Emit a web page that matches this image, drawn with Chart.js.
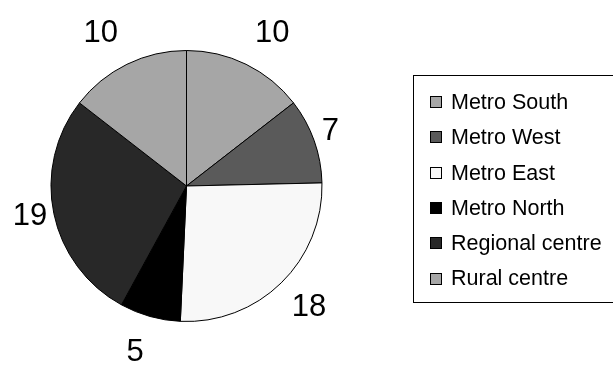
<!DOCTYPE html>
<html>
<head>
<meta charset="utf-8">
<script src="https://cdn.jsdelivr.net/npm/chart.js@4.4.1/dist/chart.umd.min.js"></script>
<style>
  html, body { margin: 0; padding: 0; background: #fff; }
  #wrap { position: relative; width: 613px; height: 367px; }
</style>
</head>
<body>
<div id="wrap"><canvas id="regionPie" width="613" height="367"></canvas></div>
<script>
const regions = ['Metro South', 'Metro West', 'Metro East', 'Metro North', 'Regional centre', 'Rural centre'];
const counts = [10, 7, 18, 5, 19, 10];
const shades = ['#a6a6a6', '#5a5a5a', '#f8f8f8', '#000000', '#282828', '#a6a6a6'];

const FONT = '"Liberation Sans", Arial, sans-serif';

// value labels: anchor a point just past the rim, then hang the text box off it
const sliceLabels = {
  id: 'sliceLabels',
  afterDatasetsDraw(chart) {
    const ctx = chart.ctx;
    const meta = chart.getDatasetMeta(0);
    ctx.save();
    ctx.font = '31px ' + FONT;
    ctx.fillStyle = '#000';
    ctx.textAlign = 'center';
    ctx.textBaseline = 'middle';
    meta.data.forEach((arc, i) => {
      const p = arc.getProps(['x', 'y', 'startAngle', 'endAngle', 'outerRadius'], true);
      const mid = (p.startAngle + p.endAngle) / 2;
      const c = Math.cos(mid), s = Math.sin(mid);
      const txt = String(chart.data.datasets[0].data[i]);
      const w = ctx.measureText(txt).width;
      const h = 26;
      const r = p.outerRadius + 6 + 18 * s * s;
      const ax = p.x + c * r, ay = p.y + s * r;
      // near-horizontal labels stay centred on the anchor vertically
      const fy = Math.min(1, Math.max(0, (Math.abs(s) - 0.2) * 4));
      ctx.fillText(txt, ax + Math.sign(c) * w / 2, ay + Math.sign(s) * fy * h / 2 + 1);
    });
    ctx.restore();
  }
};

// boxed legend on the right
const boxLegend = {
  id: 'boxLegend',
  afterDraw(chart) {
    const ctx = chart.ctx;
    const ds = chart.data.datasets[0];
    const left = 413.5, top = 75.5, right = 640, bottom = 302.5;
    ctx.save();
    ctx.strokeStyle = '#000';
    ctx.lineWidth = 1;
    ctx.strokeRect(left, top, right - left, bottom - top);
    ctx.font = '21.5px ' + FONT;
    ctx.textBaseline = 'middle';
    ctx.textAlign = 'left';
    chart.data.labels.forEach((lab, i) => {
      const cy = 102 + i * 35.3;
      const sy = Math.round(cy) - 5.5;
      ctx.fillStyle = ds.backgroundColor[i];
      ctx.fillRect(430.5, sy, 11, 11);
      ctx.strokeRect(430.5, sy, 11, 11);
      ctx.fillStyle = '#000';
      ctx.fillText(lab, 451, cy + 1);
    });
    ctx.restore();
  }
};

new Chart(document.getElementById('regionPie'), {
  type: 'pie',
  data: {
    labels: regions,
    datasets: [{
      data: counts,
      backgroundColor: shades,
      borderColor: '#000',
      borderWidth: 1,
      hoverOffset: 0
    }]
  },
  options: {
    responsive: false,
    animation: false,
    events: [],
    layout: { padding: { left: 50, top: 50, right: 290, bottom: 45 } },
    plugins: {
      legend: { display: false },
      tooltip: { enabled: false }
    }
  },
  plugins: [sliceLabels, boxLegend]
});
</script>
</body>
</html>
